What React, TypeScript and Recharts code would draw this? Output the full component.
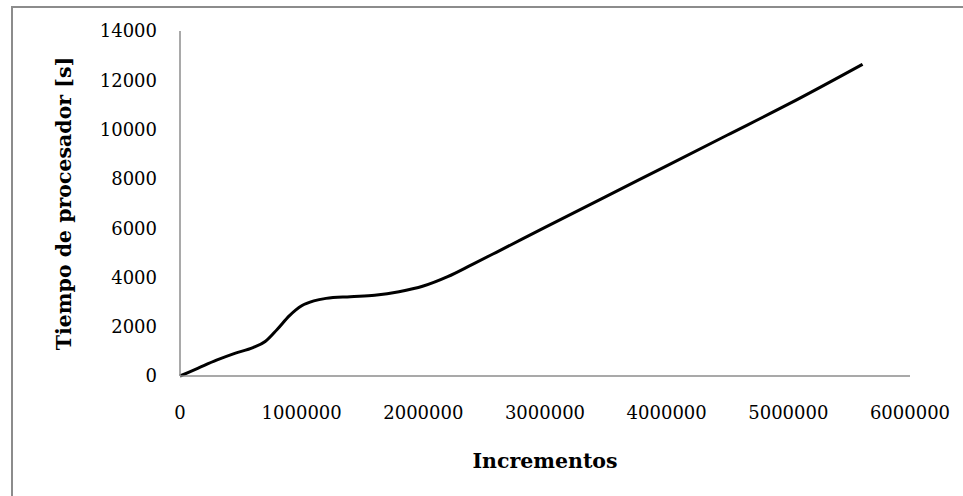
import React from 'react'
import { LineChart, Line, XAxis, YAxis } from 'recharts'

// Incrementos (x) vs tiempo de procesador en segundos (y)
const incrementos = [
  0, 150000, 300000, 450000, 600000, 700000, 800000, 900000, 1000000, 1100000,
  1200000, 1400000, 1600000, 1800000, 2000000, 2200000, 2400000, 2600000,
  3000000, 3500000, 4000000, 4500000, 5000000, 5610000,
]
const tiempo = [
  0, 320, 640, 920, 1150, 1400, 1900, 2450, 2850, 3050,
  3150, 3220, 3280, 3420, 3650, 4030, 4520, 5020,
  6030, 7280, 8530, 9780, 11030, 12650,
]
const xTicks = [0, 1000000, 2000000, 3000000, 4000000, 5000000, 6000000]
const yTicks = [0, 2000, 4000, 6000, 8000, 10000, 12000, 14000]

const data = incrementos.map((x, i) => ({ x, t: tiempo[i] }))

const FONT = '"DejaVu Serif", serif'
const AXIS = '#8c8c8c'

function YTitle({ viewBox }: any) {
  const cx = viewBox.x + 64
  const cy = viewBox.y + viewBox.height / 2
  return (
    <text x={cx} y={cy} transform={`rotate(-90 ${cx} ${cy})`} textAnchor="middle"
      dominantBaseline="central" fontFamily={FONT} fontWeight="bold" fontSize={20.5} fill="#000">
      Tiempo de procesador [s]
    </text>
  )
}

function XTitle({ viewBox }: any) {
  return (
    <text x={viewBox.x + viewBox.width / 2} y={461} textAnchor="middle"
      dominantBaseline="central" fontFamily={FONT} fontWeight="bold" fontSize={20.5} fill="#000">
      Incrementos
    </text>
  )
}

export default function App() {
  return (
    <div style={{ position: 'fixed', inset: 0, overflow: 'hidden', background: '#fff' }}>
      <div style={{ position: 'absolute', left: 11, top: 6, width: 1200, height: 800, border: `2px solid ${AXIS}` }} />
      <div style={{ position: 'absolute', left: 0, top: 0 }}>
        <LineChart width={963} height={496} data={data} margin={{ top: 31, right: 53, bottom: 60, left: 0 }}>
          <XAxis dataKey="x" type="number" domain={[0, 6000000]} ticks={xTicks}
            stroke={AXIS} strokeWidth={1.5} tickLine={false} tickSize={0} tickMargin={30} height={60}
            tick={{ fill: '#000', fontFamily: FONT, fontSize: 18 }} label={{ content: XTitle }} />
          <YAxis type="number" domain={[0, 14000]} ticks={yTicks} width={180}
            stroke={AXIS} strokeWidth={1.5} tickLine={false} tickSize={0} tickMargin={23}
            tick={{ fill: '#000', fontFamily: FONT, fontSize: 18 }} label={{ content: YTitle }} />
          <Line type="monotone" dataKey="t" stroke="#000" strokeWidth={3} dot={false} isAnimationActive={false} />
        </LineChart>
      </div>
    </div>
  )
}
